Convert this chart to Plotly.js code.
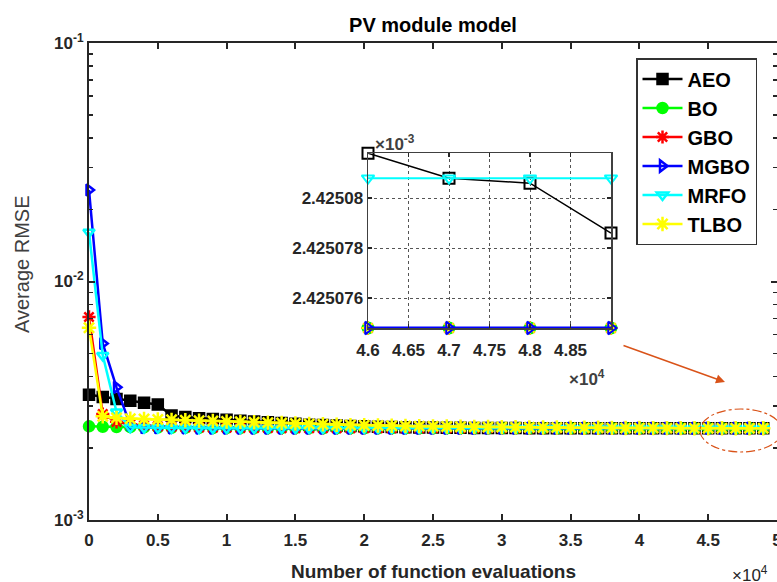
<!DOCTYPE html>
<html>
<head>
<meta charset="utf-8">
<script src="https://cdn.plot.ly/plotly-3.0.1.min.js"></script>
<style>
html,body{margin:0;padding:0;overflow:hidden;background:#fff;}
#chart{width:790px;height:582px;}
</style>
</head>
<body>
<div id="chart"></div>
<script>
// ---- data ----
const evaluations = [0,1000,2000,3000,4000,5000,6000,7000,8000,9000,
  10000,11000,12000,13000,14000,15000,16000,17000,18000,19000,
  20000,21000,22000,23000,24000,25000,26000,27000,28000,29000,
  30000,31000,32000,33000,34000,35000,36000,37000,38000,39000,
  40000,41000,42000,43000,44000,45000,46000,47000,48000,49000];

const AEO = [3.35e-3,3.28e-3,3.22e-3,3.16e-3,3.10e-3,3.05e-3,2.74e-3,2.70e-3,2.67e-3,2.65e-3,
  2.63e-3,2.61e-3,2.59e-3,2.57e-3,2.55e-3,2.53e-3,2.51e-3,2.50e-3,2.49e-3,2.48e-3,
  2.47e-3,2.462e-3,2.455e-3,2.449e-3,2.444e-3,2.440e-3,2.437e-3,2.434e-3,2.432e-3,2.4305e-3,
  2.4295e-3,2.4285e-3,2.4278e-3,2.4272e-3,2.4267e-3,2.4263e-3,2.4260e-3,2.4258e-3,2.4256e-3,2.4255e-3,
  2.4254e-3,2.42535e-3,2.4253e-3,2.42525e-3,2.4252e-3,2.4251e-3,2.4250818e-3,2.4250808e-3,2.4250806e-3,2.4250786e-3];

const BO = [2.47e-3,2.46e-3,2.455e-3,2.45e-3,2.445e-3,2.44e-3,2.437e-3,2.434e-3,2.432e-3,2.430e-3,
  2.429e-3,2.428e-3,2.4275e-3,2.427e-3,2.4266e-3,2.4263e-3,2.426e-3,2.4258e-3,2.4256e-3,2.4255e-3,
  2.4254e-3,2.4253e-3,2.42525e-3,2.4252e-3,2.42515e-3,2.4251e-3,2.42509e-3,2.42508e-3,2.425078e-3,2.425076e-3,
  2.4250748e-3,2.4250748e-3,2.4250748e-3,2.4250748e-3,2.4250748e-3,2.4250748e-3,2.4250748e-3,2.4250748e-3,2.4250748e-3,2.4250748e-3,
  2.4250748e-3,2.4250748e-3,2.4250748e-3,2.4250748e-3,2.4250748e-3,2.4250748e-3,2.4250748e-3,2.4250748e-3,2.4250748e-3,2.4250748e-3];

const GBO = [7.1e-3,2.78e-3,2.58e-3,2.52e-3,2.49e-3,2.47e-3,2.46e-3,2.45e-3,2.445e-3,2.44e-3,
  2.436e-3,2.433e-3,2.431e-3,2.4295e-3,2.4283e-3,2.4274e-3,2.4267e-3,2.4262e-3,2.4258e-3,2.4256e-3,
  2.4254e-3,2.4253e-3,2.42522e-3,2.42516e-3,2.42512e-3,2.4251e-3,2.42509e-3,2.42508e-3,2.425078e-3,2.425077e-3,
  2.425076e-3,2.4250748e-3,2.4250748e-3,2.4250748e-3,2.4250748e-3,2.4250748e-3,2.4250748e-3,2.4250748e-3,2.4250748e-3,2.4250748e-3,
  2.4250748e-3,2.4250748e-3,2.4250748e-3,2.4250748e-3,2.4250748e-3,2.4250748e-3,2.4250748e-3,2.4250748e-3,2.4250748e-3,2.4250748e-3];

const MGBO = [2.42e-2,5.5e-3,3.6e-3,2.5e-3,2.44e-3,2.435e-3,2.432e-3,2.43e-3,2.428e-3,2.427e-3,
  2.4262e-3,2.4258e-3,2.4255e-3,2.4253e-3,2.4252e-3,2.42515e-3,2.42512e-3,2.4251e-3,2.42509e-3,2.42508e-3,
  2.425078e-3,2.425076e-3,2.4250748e-3,2.4250748e-3,2.4250748e-3,2.4250748e-3,2.4250748e-3,2.4250748e-3,2.4250748e-3,2.4250748e-3,
  2.4250748e-3,2.4250748e-3,2.4250748e-3,2.4250748e-3,2.4250748e-3,2.4250748e-3,2.4250748e-3,2.4250748e-3,2.4250748e-3,2.4250748e-3,
  2.4250748e-3,2.4250748e-3,2.4250748e-3,2.4250748e-3,2.4250748e-3,2.4250748e-3,2.4250748e-3,2.4250748e-3,2.4250748e-3,2.4250748e-3];

const MRFO = [1.61e-2,4.9e-3,2.84e-3,2.45e-3,2.44e-3,2.435e-3,2.432e-3,2.43e-3,2.429e-3,2.428e-3,
  2.4272e-3,2.4266e-3,2.4262e-3,2.4259e-3,2.4257e-3,2.4255e-3,2.4254e-3,2.4253e-3,2.42525e-3,2.4252e-3,
  2.42516e-3,2.42513e-3,2.42511e-3,2.4251e-3,2.42509e-3,2.425085e-3,2.425083e-3,2.425082e-3,2.4250808e-3,2.4250808e-3,
  2.4250808e-3,2.4250808e-3,2.4250808e-3,2.4250808e-3,2.4250808e-3,2.4250808e-3,2.4250808e-3,2.4250808e-3,2.4250808e-3,2.4250808e-3,
  2.4250808e-3,2.4250808e-3,2.4250808e-3,2.4250808e-3,2.4250808e-3,2.4250808e-3,2.4250808e-3,2.4250808e-3,2.4250808e-3,2.4250808e-3];

const TLBO = [6.4e-3,2.72e-3,2.68e-3,2.66e-3,2.65e-3,2.64e-3,2.63e-3,2.62e-3,2.61e-3,2.60e-3,
  2.59e-3,2.58e-3,2.57e-3,2.56e-3,2.55e-3,2.54e-3,2.53e-3,2.52e-3,2.51e-3,2.50e-3,
  2.495e-3,2.49e-3,2.485e-3,2.48e-3,2.475e-3,2.47e-3,2.466e-3,2.462e-3,2.458e-3,2.455e-3,
  2.452e-3,2.449e-3,2.446e-3,2.443e-3,2.441e-3,2.439e-3,2.437e-3,2.435e-3,2.433e-3,2.431e-3,
  2.430e-3,2.429e-3,2.428e-3,2.427e-3,2.426e-3,2.4255e-3,2.4250748e-3,2.4250748e-3,2.4250748e-3,2.4250748e-3];

const algorithmNames = ['AEO','BO','GBO','MGBO','MRFO','TLBO'];
const mainTickVals = [0,0.5,1,1.5,2,2.5,3,3.5,4,4.5,5];
const mainTickText = ['0','0.5','1','1.5','2','2.5','3','3.5','4','4.5','5'];
const yTickVals = [0.001,0.01,0.1];
const yTickText = ['10<sup>-3</sup>','10<sup>-2</sup>','10<sup>-1</sup>'];
const yMinorVals = [0.002,0.003,0.004,0.005,0.006,0.007,0.008,0.009,0.02,0.03,0.04,0.05,0.06,0.07,0.08,0.09];
const insetXTickVals = [4.6,4.65,4.7,4.75,4.8,4.85];
const insetXTickText = ['4.6','4.65','4.7','4.75','4.8','4.85'];
const insetYTickVals = [2.425076,2.425078,2.42508];
const insetYTickText = ['2.425076','2.425078','2.42508'];
const insetStart = 46000;

// ---- styling ----
const FONT = 'Liberation Sans, Arial, Helvetica, sans-serif';
const seriesData = {AEO:AEO, BO:BO, GBO:GBO, MGBO:MGBO, MRFO:MRFO, TLBO:TLBO};
const style = {
  AEO:  {color:'#000000', symbol:'square', insetSymbol:'square-open', lw:2.5, ms:10},
  BO:   {color:'#00FF00', symbol:'circle', insetSymbol:'circle-open', lw:2.5, ms:10},
  GBO:  {color:'#FF0000', symbol:'asterisk-open', insetSymbol:'asterisk-open', lw:2.5, ms:11},
  MGBO: {color:'#0000FF', symbol:'triangle-right-open', insetSymbol:'triangle-right-open', lw:2.5, ms:10},
  MRFO: {color:'#00FFFF', symbol:'triangle-down-open', insetSymbol:'triangle-down-open', lw:2.5, ms:10},
  TLBO: {color:'#FFFF00', symbol:'asterisk-open', insetSymbol:'asterisk-open', lw:2.5, ms:12}
};

const xMain = evaluations.map(v => v / 1e4);
const traces = [];
algorithmNames.forEach(name => {
  const s = style[name];
  traces.push({
    type:'scatter', mode:'lines+markers', name:name,
    x:xMain, y:seriesData[name],
    xaxis:'x', yaxis:'y',
    legendgroup:name,
    cliponaxis:false,
    line:{color:s.color, width:s.lw},
    marker:{symbol:s.symbol, size:s.ms, color:s.color, line:{color:s.color, width:2.5}}
  });
});

// inset traces (draw order so blue lies over the others at the floor)
const insetOrder = ['AEO','BO','GBO','TLBO','MGBO','MRFO'];
const insetIdx = evaluations.map((v,i)=>i).filter(i => evaluations[i] >= insetStart);
const insetWidths = {AEO:1.5, BO:2, GBO:2, TLBO:2, MGBO:3, MRFO:2};
insetOrder.forEach(name => {
  const s = style[name];
  traces.push({
    type:'scatter', mode:'lines+markers', name:name, showlegend:false,
    x:insetIdx.map(i => evaluations[i] / 1e4),
    y:insetIdx.map(i => seriesData[name][i] * 1e3),
    xaxis:'x2', yaxis:'y2',
    cliponaxis:false,
    line:{color:s.color, width:insetWidths[name]},
    marker:{symbol:s.insetSymbol, size:11, color:s.color, line:{color:s.color, width:2}}
  });
});

const axisColor = '#262626';
const tickFont = {family:FONT, size:17, color:axisColor, weight:'bold'};

const layout = {
  width:790, height:582,
  margin:{l:89, r:13, t:43, b:62},
  paper_bgcolor:'#ffffff', plot_bgcolor:'#ffffff',
  font:{family:FONT, color:axisColor},
  title:{text:'<b>PV module model</b>', font:{family:FONT, size:20, color:'#000'},
         x:0.5, xref:'paper', xanchor:'center', y:1-25/582, yref:'container', yanchor:'middle'},
  showlegend:true,
  legend:{x:(636-89)/688, y:(520-58)/477, xanchor:'left', yanchor:'top',
          bgcolor:'#ffffff', bordercolor:'#333333', borderwidth:1.5,
          font:{family:FONT, size:20, color:'#000', weight:'bold'},
          tracegroupgap:0, itemwidth:40},
  xaxis:{domain:[0,1], range:[0,5], tickmode:'array', tickvals:mainTickVals, ticktext:mainTickText,
         ticks:'inside', ticklen:6, tickwidth:2, tickcolor:axisColor,
         showline:true, linecolor:axisColor, linewidth:2, mirror:'ticks',
         showgrid:false, zeroline:false, tickfont:tickFont, ticklabelstandoff:4},
  yaxis:{domain:[0,1], type:'log', range:[-3,-1], tickmode:'array', tickvals:yTickVals, ticktext:yTickText,
         ticks:'inside', ticklen:6, tickwidth:2, tickcolor:axisColor,
         minor:{tickmode:'array', tickvals:yMinorVals, ticks:'inside', ticklen:4, tickwidth:1.5, tickcolor:axisColor, showgrid:false},
         showline:true, linecolor:axisColor, linewidth:2, mirror:'ticks',
         showgrid:false, zeroline:false, tickfont:tickFont},
  xaxis2:{domain:[(368-89)/688,(611-89)/688], anchor:'y2', range:[4.6,4.9], tickmode:'array',
          tickvals:insetXTickVals, ticktext:insetXTickText,
          ticks:'inside', ticklen:4, tickwidth:1.5, tickcolor:axisColor,
          showline:true, linecolor:'#404040', linewidth:1.5, mirror:'ticks',
          showgrid:true, gridcolor:'#555555', gridwidth:1, griddash:'dot',
          zeroline:false, tickfont:tickFont, ticklabelstandoff:6},
  yaxis2:{domain:[0.4025,0.769], anchor:'x2', range:[2.4250748,2.4250818], tickmode:'array',
          tickvals:insetYTickVals, ticktext:insetYTickText,
          ticks:'inside', ticklen:4, tickwidth:1.5, tickcolor:axisColor,
          showline:true, linecolor:'#404040', linewidth:1.5, mirror:'ticks',
          showgrid:true, gridcolor:'#555555', gridwidth:1, griddash:'dot',
          zeroline:false, tickfont:tickFont},
  annotations:[
    {text:'Average RMSE', xref:'paper', yref:'paper', x:(22-89)/688, y:(520-265)/477,
     textangle:-90, showarrow:false, xanchor:'center', yanchor:'middle',
     font:{family:FONT, size:20, color:'#404040'}},
    {text:'<b>Number of function evaluations</b>', xref:'paper', yref:'paper', x:0.5, y:(520-571)/477,
     showarrow:false, xanchor:'center', yanchor:'middle',
     font:{family:FONT, size:19, color:axisColor}},
    {text:'×10<sup>4</sup>', xref:'paper', yref:'paper', x:(730-89)/688, y:(520-574)/477,
     showarrow:false, xanchor:'left', yanchor:'middle',
     font:{family:FONT, size:17, color:axisColor}},
    {text:'<b>×10<sup>-3</sup></b>', xref:'paper', yref:'paper', x:(373-89)/688, y:(520-143)/477,
     showarrow:false, xanchor:'left', yanchor:'middle',
     font:{family:FONT, size:17, color:'#404040'}},
    {text:'<b>×10<sup>4</sup></b>', xref:'paper', yref:'paper', x:(567-89)/688, y:(520-378)/477,
     showarrow:false, xanchor:'left', yanchor:'middle',
     font:{family:FONT, size:17, color:'#404040'}},
    {text:'', xref:'paper', yref:'paper', x:(725-89)/688, y:(520-382)/477,
     ax:-103, ay:-37, axref:'pixel', ayref:'pixel', showarrow:true,
     arrowhead:2, arrowsize:1.2, arrowwidth:1.5, arrowcolor:'#D95319'}
  ],
  shapes:[
    {type:'circle', xref:'paper', yref:'paper', x0:(700-89)/688, x1:(782-89)/688,
     y0:(520-452)/477, y1:(520-409)/477, line:{color:'#D95319', width:1.2, dash:'dashdot'}}
  ]
};

Plotly.newPlot('chart', traces, layout, {displayModeBar:false, staticPlot:true});
</script>
</body>
</html>
